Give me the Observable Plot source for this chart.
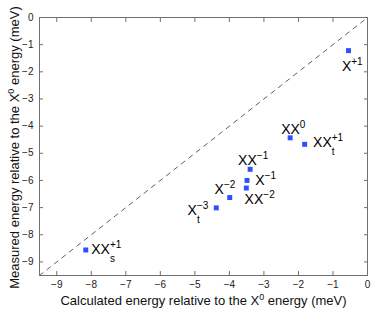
<!DOCTYPE html>
<html><head><meta charset="utf-8">
<script src="https://cdn.jsdelivr.net/npm/d3@7"></script>
<script src="https://cdn.jsdelivr.net/npm/@observablehq/plot@0.6"></script>
<style>
html,body{margin:0;padding:0;background:#fff;}
#chart svg{display:block;}
</style></head><body><div id="chart"></div>
<script>
// ---- data ----
const stateBase = ["X", "XX", "XX", "XX", "X", "XX", "X", "X", "XX"];
const stateSup  = ["+1", "0", "+1", "\u22121", "\u22121", "\u22122", "\u22122", "\u22123", "+1"];
const stateSub  = ["", "", "t", "", "", "", "", "t", "s"];
const calculated = [-0.55, -2.24, -1.82, -3.40, -3.49, -3.51, -3.99, -4.38, -8.16];
const measured   = [-1.22, -4.43, -4.67, -5.59, -6.00, -6.28, -6.63, -7.01, -8.56];
const xTicks = [-9, -8, -7, -6, -5, -4, -3, -2, -1, 0];
const yTicks = [-9, -8, -7, -6, -5, -4, -3, -2, -1, 0];
const diagonal = [-9.5, 0];
const xLabelParts = [["Calculated energy relative to the X", ""], ["0", "sup"], [" energy (meV)", ""]];
const yLabelParts = [["Measured energy relative to the X", ""], ["0", "sup"], [" energy (meV)", ""]];

// ---- layout (label offsets in px from each point) ----
const labelOffsets = [[-6.6, 20], [-9, -3.5], [8.4, 2.7], [-12, -4.7], [8.3, 4.3], [-1.7, 15.6], [-15.2, -4], [-28.7, 7.3], [5.5, 4]];

const axisColor = "#707070";
const font = "'Liberation Sans', Arial, Helvetica, sans-serif";
const idx = calculated.map((_, i) => i);

const plot = Plot.plot({
  width: 374, height: 310,
  marginLeft: 39, marginRight: 7, marginTop: 17, marginBottom: 35,
  style: {fontFamily: font, background: "#fff", color: "#222", overflow: "visible"},
  x: {domain: [-9.5, 0]},
  y: {domain: [-9.5, 0]},
  marks: [
    Plot.line(diagonal, {x: d => d, y: d => d, stroke: "#333", strokeWidth: 0.8, strokeDasharray: "4.5,5"}),
    Plot.frame({stroke: axisColor, strokeWidth: 1}),
    Plot.axisX({anchor: "bottom", ticks: xTicks, tickSize: -4, tickPadding: 9, stroke: axisColor, fill: "#222", fontSize: 10, label: null}),
    Plot.axisX({anchor: "top", ticks: xTicks, tickSize: -4, tickFormat: () => "", stroke: axisColor, label: null}),
    Plot.axisY({anchor: "left", ticks: yTicks, tickSize: -4, tickPadding: 10, stroke: axisColor, fill: "#222", fontSize: 10, label: null}),
    Plot.axisY({anchor: "right", ticks: yTicks, tickSize: -4, tickFormat: () => "", stroke: axisColor, label: null}),
    Plot.dot(idx, {x: i => calculated[i], y: i => measured[i], symbol: "square", r: 2.8, fill: "#2f4fff", stroke: "none"}),
    ...idx.map(i => Plot.text([i], {
      x: j => calculated[j], y: j => measured[j], text: j => stateBase[j],
      dx: labelOffsets[i][0], dy: labelOffsets[i][1],
      textAnchor: "start", lineAnchor: "bottom", fontSize: 14, fill: "#000"
    })),
    Plot.text(["x"], {frameAnchor: "bottom", dy: 29.5, text: () => xLabelParts.map(p => p[0]).join(""), textAnchor: "middle", lineAnchor: "bottom", fontSize: 13, fill: "#111"}),
    Plot.text(["y"], {frameAnchor: "left", dx: -21, dy: 1, rotate: -90, text: () => yLabelParts.map(p => p[0]).join(""), textAnchor: "middle", lineAnchor: "bottom", fontSize: 13, fill: "#111"})
  ]
});
document.getElementById("chart").appendChild(plot);

const NS = "http://www.w3.org/2000/svg";
function tspan(t, attrs) {
  const el = document.createElementNS(NS, "tspan");
  for (const k in attrs) el.setAttribute(k, attrs[k]);
  el.textContent = t;
  return el;
}
const textEls = Array.from(plot.querySelectorAll('g[aria-label="text"] text'));
// state labels: first n text elements
idx.forEach(i => {
  const el = textEls[i];
  if (!el) return;
  el.textContent = "";
  el.appendChild(tspan(stateBase[i], {}));
  const sup = tspan(stateSup[i], {dy: -6, "font-size": 10});
  el.appendChild(sup);
  if (stateSub[i]) {
    const w = sup.getComputedTextLength();
    el.appendChild(tspan(stateSub[i], {dx: -w, dy: 14, "font-size": 10}));
  }
});
// axis titles
function richTitle(el, parts) {
  if (!el) return;
  el.textContent = "";
  let raised = false;
  for (const [t, kind] of parts) {
    if (kind === "sup") { el.appendChild(tspan(t, {dy: -5, "font-size": 9})); raised = true; }
    else { el.appendChild(tspan(t, raised ? {dy: 5} : {})); raised = false; }
  }
}
richTitle(textEls[idx.length], xLabelParts);
richTitle(textEls[idx.length + 1], yLabelParts);
</script></body></html>
